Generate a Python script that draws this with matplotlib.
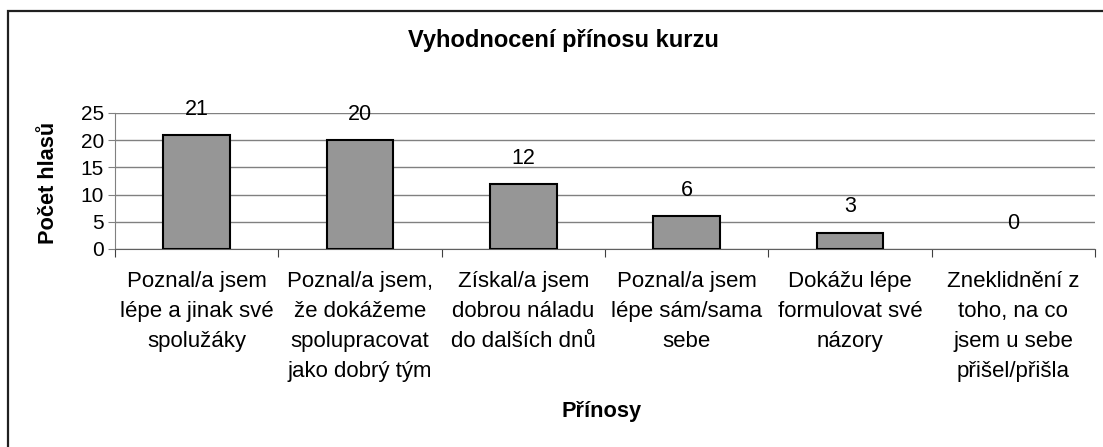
import numpy as np
import matplotlib
matplotlib.use('Agg')
import matplotlib.pyplot as plt
from matplotlib.patches import Rectangle

plt.rcParams['font.family'] = ['Liberation Sans', 'DejaVu Sans']

kategorie = ['Poznal/a jsem\nlépe a jinak své\nspolužáky',
             'Poznal/a jsem,\nže dokážeme\nspolupracovat\njako dobrý tým',
             'Získal/a jsem\ndobrou náladu\ndo dalších dnů',
             'Poznal/a jsem\nlépe sám/sama\nsebe',
             'Dokážu lépe\nformulovat své\nnázory',
             'Zneklidnění z\ntoho, na co\njsem u sebe\npřišel/přišla']
hlasy = [21, 20, 12, 6, 3, 0]
yticks = [0, 5, 10, 15, 20, 25]

W, H = 1103, 447
fig = plt.figure(figsize=(W/100, H/100), dpi=100)
ax = fig.add_axes([115/W, 1-249/H, (1095-115)/W, (249-113)/H])

x = np.arange(len(hlasy))
# nulovy sloupec nema viditelny okraj
lw = [1.5 if v > 0 else 0 for v in hlasy]
bars = ax.bar(x, hlasy, width=0.41, color='#969696', edgecolor='black', linewidth=lw, zorder=3)
for xi, v in zip(x, hlasy):
    ax.annotate(str(v), (xi, v), xytext=(0, 18.5), textcoords='offset points',
                ha='center', va='center', fontsize=15.5, zorder=2)

ax.set_xlim(-0.5, len(hlasy)-0.5)
ax.set_ylim(0, 25)
ax.set_yticks(yticks)
ax.yaxis.grid(True, color='#808080', linewidth=1, zorder=0)
ax.tick_params(axis='y', labelsize=15, length=5, color='#808080', pad=3)

# hranice kategorii jako hlavni ticky, popisky na vedlejsich
ax.set_xticks(np.arange(len(hlasy)+1)-0.5)
ax.set_xticklabels([])
ax.tick_params(axis='x', which='major', length=6, color='#404040')
ax.set_xticks(x, minor=True)
ax.set_xticklabels(kategorie, minor=True, fontsize=16, linespacing=1.55)
ax.tick_params(axis='x', which='minor', length=0, pad=16)

for s in ['top', 'right']:
    ax.spines[s].set_visible(False)
ax.spines['left'].set_color('#808080')
ax.spines['bottom'].set_color('#606060')

fig.text(563/W, 1-40/H, 'Vyhodnocení přínosu kurzu', ha='center', va='center',
         fontsize=17, fontweight='bold')
fig.text(48/W, 1-183/H, 'Počet hlasů', ha='center', va='center', rotation=90,
         fontsize=15.7, fontweight='bold')
fig.text(602/W, 1-412/H, 'Přínosy', ha='center', va='center',
         fontsize=15.7, fontweight='bold')

fig.patches.append(Rectangle((8/W, -0.1), 1.2, 1.1-11/H, transform=fig.transFigure,
                             fill=False, edgecolor='#202020', linewidth=1.6))

fig.savefig('out.png', dpi=100)
